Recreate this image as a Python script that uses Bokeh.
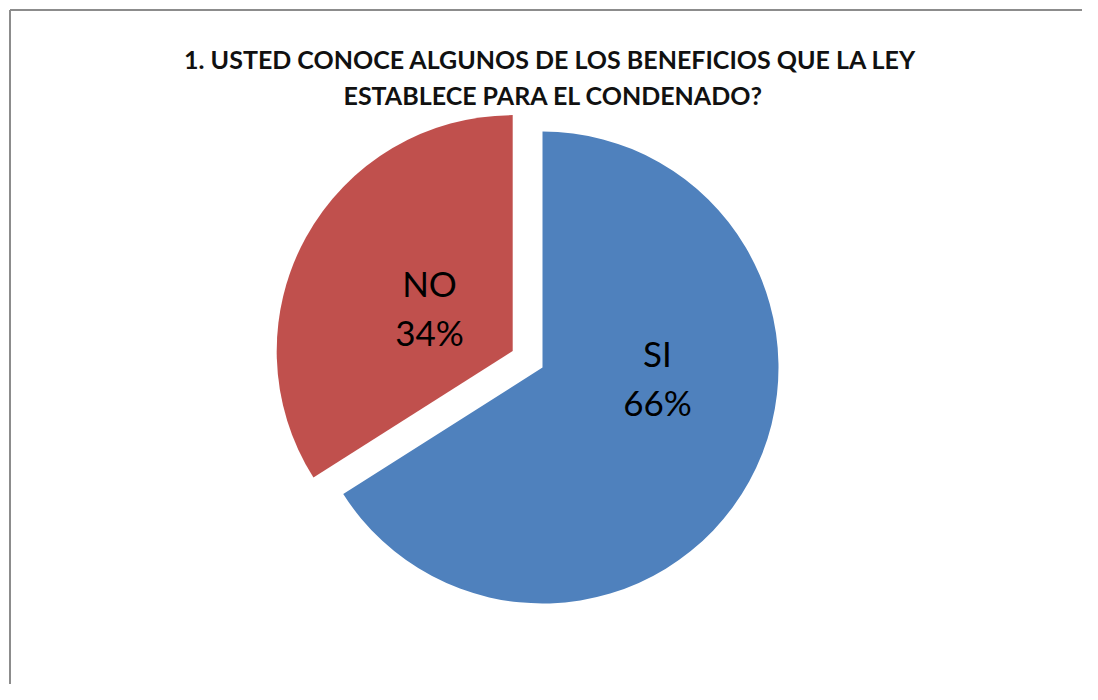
import math
from bokeh.plotting import figure
from bokeh.models import Range1d, ColumnDataSource
from bokeh.core.properties import value
from bokeh.embed import file_html
from bokeh.resources import INLINE

# ---- data ----
categories = ["SI", "NO"]
percentages = [66, 34]
colors = ["#4F81BD", "#C0504D"]
title_lines = ["1. USTED  CONOCE ALGUNOS DE LOS BENEFICIOS QUE LA LEY",
               "ESTABLECE PARA EL CONDENADO?"]

W, H = 1082, 684


def fy(y_from_top):
    # convert a distance from the top of the figure into data y
    return H - y_from_top


p = figure(width=W, height=H, output_backend="svg", toolbar_location=None,
           x_range=Range1d(0, W), y_range=Range1d(0, H), min_border=0)
p.axis.visible = False
p.grid.visible = False
p.outline_line_color = None
p.background_fill_color = "white"
p.border_fill_color = "white"

# chart-area border (left and top edges visible in the reference)
p.line(x=[9.5, 9.5], y=[0, fy(9.5)], line_color="#8c8c8c", line_width=2)
p.line(x=[9.5, W], y=[fy(9.5), fy(9.5)], line_color="#8c8c8c", line_width=2)

# pie geometry
cx, cy = 542, fy(367)
radius = 236
explode = [0, 34]

total = sum(percentages)
start = math.pi / 2
xs, ys, starts, ends = [], [], [], []
for v, ex in zip(percentages, explode):
    sweep = 2 * math.pi * v / total
    end = start
    st = start - sweep
    mid = (st + end) / 2
    xs.append(cx + ex * math.cos(mid))
    ys.append(cy + ex * math.sin(mid))
    starts.append(st)
    ends.append(end)
    start = st

src = ColumnDataSource(dict(x=xs, y=ys, s=starts, e=ends, c=colors))
p.wedge(x="x", y="y", radius=radius, start_angle="s", end_angle="e",
        fill_color="c", line_color=None, source=src)

# labels
label_pos = {"SI": (657, fy(352), fy(401)), "NO": (429, fy(282), fy(331))}
for cat, pct in zip(categories, percentages):
    lx, y1, y2 = label_pos[cat]
    p.text(x=[lx, lx], y=[y1, y2], text=[cat, f"{pct}%"],
           text_font=value("Lato"), text_font_size="35px",
           text_align="center", text_baseline="alphabetic", text_color="black")

# title
p.text(x=[553, 553], y=[fy(58), fy(94)], text=title_lines,
       text_font=value("Lato"), text_font_size="25px", text_font_style="bold",
       text_align="center", text_baseline="alphabetic", text_color="#111111")

open("out.html", "w").write(file_html(p, INLINE))
